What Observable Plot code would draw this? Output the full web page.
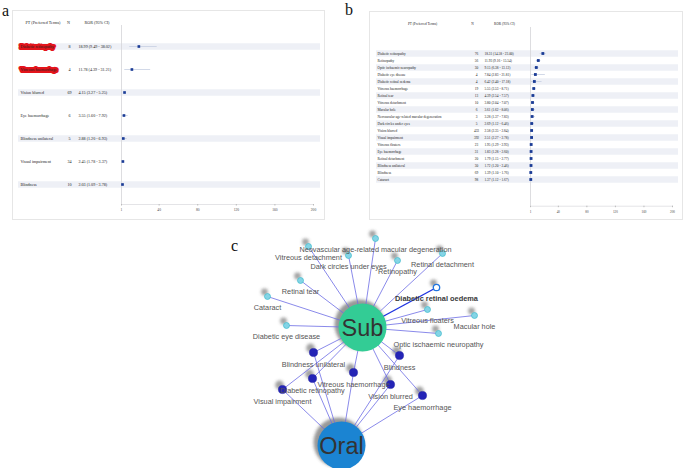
<!DOCTYPE html>
<html>
<head>
<meta charset="utf-8">
<script src="https://cdn.jsdelivr.net/npm/d3@7"></script>
<script src="https://cdn.jsdelivr.net/npm/@observablehq/plot@0.6"></script>
<style>
  html, body { margin: 0; padding: 0; background: #fff; }
  #root { position: relative; width: 685px; height: 468px; overflow: hidden; background: #fff; }
  #root > svg, #root > div { position: absolute; }
  .plab { font-family: 'Liberation Serif', 'Times New Roman', serif; font-size: 16px; color: #111; line-height: 1; }
</style>
</head>
<body>
<div id="root"></div>
<script>
// ---------- Panel a data (oral) ----------
const termsA = ["Diabetic retinopathy","Vitreous haemorrhage","Vision blurred","Eye haemorrhage","Blindness unilateral","Visual impairment","Blindness"];
const nA     = [8, 4, 69, 6, 5, 34, 10];
const rorA   = [18.99, 11.78, 4.15, 3.55, 2.88, 2.45, 2.03];
const loA    = [9.49, 4.39, 3.27, 1.60, 1.20, 1.78, 1.09];
const hiA    = [38.02, 31.21, 5.25, 7.92, 6.93, 3.37, 3.78];
const highlightA = ["Diabetic retinopathy","Vitreous haemorrhage"];

// ---------- Panel b data (subcutaneous) ----------
const termsB = ["Diabetic retinopathy","Retinopathy","Optic ischaemic neuropathy","Diabetic eye disease","Diabetic retinal oedema","Vitreous haemorrhage","Retinal tear","Vitreous detachment","Macular hole","Neovascular age-related macular degeneration","Dark circles under eyes","Vision blurred","Visual impairment","Vitreous floaters","Eye haemorrhage","Retinal detachment","Blindness unilateral","Blindness","Cataract"];
const nB     = [76, 56, 30, 4, 4, 19, 13, 10, 6, 3, 5, 433, 392, 23, 31, 20, 30, 69, 98];
const rorB   = [18.31, 11.93, 9.15, 7.84, 6.42, 5.55, 4.39, 3.80, 3.61, 3.28, 2.69, 2.58, 2.51, 1.95, 1.83, 1.79, 1.72, 1.39, 1.37];
const loB    = [14.58, 9.16, 6.38, 2.83, 2.40, 3.53, 2.54, 2.04, 1.62, 1.37, 1.12, 2.35, 2.27, 1.29, 1.28, 1.15, 1.20, 1.10, 1.12];
const hiB    = [23.00, 15.54, 13.12, 21.81, 17.18, 8.71, 7.57, 7.07, 8.06, 7.83, 6.46, 2.84, 2.78, 2.93, 2.60, 2.77, 2.46, 1.76, 1.67];

const headers = ["PT (Preferred Terms)", "N", "ROR (95% CI)"];
const xTicks = [1, 40, 80, 120, 160, 200];
const refValue = 1;

// ---------- Panel c data (network layout) ----------
const hubNames = ["Sub", "Oral"];
const hubX = [362, 341];
const hubY = [327, 445];
const subOnly  = ["Neovascular age-related macular degeneration","Vitreous detachment","Dark circles under eyes","Retinopathy","Retinal detachment","Retinal tear","Cataract","Diabetic retinal oedema","Vitreous floaters","Macular hole","Optic ischaemic neuropathy","Diabetic eye disease"];
const subOnlyX = [375, 308, 348, 397, 442, 300, 267, 436, 427, 474, 438, 286];
const subOnlyY = [238, 246, 255, 260, 253, 280, 296, 287, 309, 315, 333, 325];
const shared  = ["Blindness unilateral","Diabetic retinopathy","Visual impairment","Vitreous haemorrhage","Blindness","Vision blurred","Eye haemorrhage"];
const sharedX = [313, 312, 282, 353, 399, 390, 422];
const sharedY = [352, 378, 389, 372, 355, 384, 395];
const emphasised = ["Diabetic retinal oedema"];

const root = document.getElementById("root");
const serif = "'Liberation Serif', 'Times New Roman', serif";
const fmt = v => v.toFixed(2);

function forest(cfg) {
  const rows = cfg.terms.map((t, i) => ({
    term: t, n: cfg.n[i], ror: cfg.ror[i], lo: cfg.lo[i], hi: cfg.hi[i],
    label: `${fmt(cfg.ror[i])} (${fmt(cfg.lo[i])} - ${fmt(cfg.hi[i])})`, odd: i % 2 === 0
  }));
  const hl = cfg.highlight || [];
  const fs = cfg.fontSize;
  const plot = Plot.plot({
    width: cfg.width, height: cfg.height,
    marginLeft: cfg.ml, marginRight: cfg.mr, marginTop: cfg.mt, marginBottom: cfg.mb,
    x: {domain: [xTicks[0], xTicks[xTicks.length - 1]], label: null},
    y: {type: "point", domain: cfg.terms, range: cfg.yRange, axis: null},
    style: {fontFamily: serif, background: "#fff", outline: "1px solid #e6e6e6", overflow: "visible"},
    marks: [
      Plot.ruleY(rows.filter(d => d.odd), {y: "term", stroke: "#eef0f6", strokeWidth: 6.4, insetLeft: cfg.bandL, insetRight: cfg.bandR}),
      Plot.ruleX([refValue], {stroke: "#d4d4d8", strokeWidth: 0.8}),
      Plot.frame({anchor: "bottom", stroke: "#d8d8dc", strokeWidth: 0.7}),
      Plot.axisX(xTicks, {tickSize: 1.5, tickPadding: 2.5, fontSize: cfg.tickFont, stroke: "#bbb", fill: "#444"}),
      Plot.ruleY(rows, {y: "term", x1: "lo", x2: "hi", stroke: "#c6cfe2", strokeWidth: 0.8}),
      Plot.dot(rows, {x: "ror", y: "term", symbol: "square", r: cfg.sq, fill: "#1b3c96", stroke: "none"}),
      Plot.text(rows.filter(d => hl.includes(d.term)), {y: "term", text: "term", frameAnchor: "left", dx: cfg.cLabel, textAnchor: "start", fontSize: fs, fill: "#e3141b", stroke: "#e3141b", strokeWidth: 4.2, strokeLinejoin: "round"}),
      Plot.text(rows, {y: "term", text: "term", frameAnchor: "left", dx: cfg.cLabel, textAnchor: "start", fontSize: fs, fill: "#222"}),
      Plot.text(rows, {y: "term", text: "n", frameAnchor: "left", dx: cfg.cN, textAnchor: "middle", fontSize: fs, fill: "#222"}),
      Plot.text(rows, {y: "term", text: "label", frameAnchor: "left", dx: cfg.cRor, textAnchor: "start", fontSize: fs, fill: "#222"}),
      Plot.text([headers[0]], {text: d => d, frameAnchor: "top-left", dx: cfg.hPT, dy: cfg.hDy, textAnchor: "middle", fontSize: fs, fill: "#222"}),
      Plot.text([headers[1]], {text: d => d, frameAnchor: "top-left", dx: cfg.hN, dy: cfg.hDy, textAnchor: "middle", fontSize: fs, fill: "#222"}),
      Plot.text([headers[2]], {text: d => d, frameAnchor: "top-left", dx: cfg.hRor, dy: cfg.hDy, textAnchor: "middle", fontSize: fs, fill: "#222"})
    ]
  });
  plot.style.left = cfg.left + "px";
  plot.style.top = cfg.top + "px";
  root.appendChild(plot);
}

forest({
  terms: termsA, n: nA, ror: rorA, lo: loA, hi: hiA, highlight: highlightA,
  left: 13, top: 11, width: 311, height: 208,
  ml: 108, mr: 11, mt: 14, mb: 15, yRange: [21.3, 187.3],
  bandL: -103, bandR: -7,
  cLabel: -101, cN: -52, cRor: -43, hPT: -78.5, hN: -53, hRor: -24.5, hDy: -4,
  fontSize: 4.1, tickFont: 3.6, sq: 1.5
});

forest({
  terms: termsB, n: nB, ror: rorB, lo: loB, hi: hiB,
  left: 370, top: 12, width: 312, height: 207,
  ml: 160, mr: 10, mt: 15, mb: 13.3, yRange: [29.3, 179.4],
  bandL: -154, bandR: -6,
  cLabel: -153, cN: -54, cRor: -46, hPT: -108, hN: -58, hRor: -26, hDy: -4.7,
  fontSize: 3.45, tickFont: 3.3, sq: 1.6
});

// ---------- Panel c network ----------
const hubs = hubNames.map((h, i) => ({name: h, x: hubX[i], y: hubY[i], fill: i === 0 ? "#33cc95" : "#1b84d2"}));
const lightNodes = subOnly.map((t, i) => ({name: t, x: subOnlyX[i], y: subOnlyY[i], ring: emphasised.includes(t)}));
const darkNodes = shared.map((t, i) => ({name: t, x: sharedX[i], y: sharedY[i]}));
const edges = [];
for (const d of lightNodes) edges.push({x1: hubs[0].x, y1: hubs[0].y, x2: d.x, y2: d.y, strong: d.ring});
for (const d of darkNodes) {
  edges.push({x1: hubs[0].x, y1: hubs[0].y, x2: d.x, y2: d.y, strong: false});
  edges.push({x1: hubs[1].x, y1: hubs[1].y, x2: d.x, y2: d.y, strong: false});
}
const allSmall = [...lightNodes.map(d => ({...d, r: 3.4})), ...darkNodes.map(d => ({...d, r: 4.4}))];
const sans = "'Liberation Sans', Arial, sans-serif";

const net = Plot.plot({
  width: 280, height: 243, margin: 0,
  x: {domain: [220, 500], range: [0, 280], axis: null},
  y: {domain: [225, 468], range: [0, 243], axis: null},
  r: {type: "identity"},
  style: {fontFamily: sans, background: "transparent", overflow: "visible"},
  marks: [
    Plot.dot(hubs, {x: "x", y: "y", r: 25, fill: "#444", fillOpacity: 0.55, dx: -3, dy: -3, ariaDescription: "shadow"}),
    Plot.dot(allSmall, {x: "x", y: "y", r: "r", fill: "#555", fillOpacity: 0.55, dx: -3, dy: -4.5, ariaDescription: "shadow"}),
    Plot.link(edges, {x1: "x1", y1: "y1", x2: "x2", y2: "y2", stroke: d => d.strong ? "#1f33e0" : "#6c6ce4", strokeWidth: d => d.strong ? 1.4 : 0.8}),
    Plot.dot(lightNodes.filter(d => !d.ring), {x: "x", y: "y", r: 3, fill: "#84d4e6", stroke: "#3fbccb", strokeWidth: 0.7}),
    Plot.dot(lightNodes.filter(d => d.ring), {x: "x", y: "y", r: 3.2, fill: "#fff", stroke: "#1f74e0", strokeWidth: 1.3}),
    Plot.dot(darkNodes, {x: "x", y: "y", r: 4.1, fill: "#2424b6", stroke: "#1c1ca0", strokeWidth: 0.5}),
    Plot.dot(hubs, {x: "x", y: "y", r: 24, fill: "fill"}),
    Plot.text(lightNodes.filter(d => !d.ring), {x: "x", y: "y", text: "name", dy: 11.5, fontSize: 7.3, fill: "#555"}),
    Plot.text(lightNodes.filter(d => d.ring), {x: "x", y: "y", text: "name", dy: 11.5, fontSize: 7.4, fontWeight: "bold", fill: "#3a3a3a"}),
    Plot.text(darkNodes, {x: "x", y: "y", text: "name", dy: 11.8, fontSize: 7.3, fill: "#555"}),
    Plot.text(hubs, {x: "x", y: "y", text: "name", fontSize: 23.5, fill: "#333", dy: 1})
  ]
});
// soft blur for the node shadows
{
  const ns = "http://www.w3.org/2000/svg";
  const defs = document.createElementNS(ns, "defs");
  const filt = document.createElementNS(ns, "filter");
  filt.setAttribute("id", "nodeShadow");
  filt.setAttribute("x", "-100%"); filt.setAttribute("y", "-100%");
  filt.setAttribute("width", "300%"); filt.setAttribute("height", "300%");
  const blur = document.createElementNS(ns, "feGaussianBlur");
  blur.setAttribute("stdDeviation", "1.7");
  filt.appendChild(blur);
  defs.appendChild(filt);
  net.insertBefore(defs, net.firstChild);
  const gs = new Set([...net.querySelectorAll('g[aria-description="shadow"]'), ...net.querySelectorAll('g[fill="#444"], g[fill="#555"]')]);
  gs.forEach(g => { if (g.querySelector("circle")) g.setAttribute("filter", "url(#nodeShadow)"); });
}
net.style.left = "220px";
net.style.top = "225px";
root.appendChild(net);

// ---------- panel letters ----------
[["a", 2, 3], ["b", 345, 2], ["c", 231, 238]].forEach(([t, x, y]) => {
  const d = document.createElement("div");
  d.className = "plab";
  d.textContent = t;
  d.style.left = x + "px";
  d.style.top = y + "px";
  root.appendChild(d);
});
</script>
</body>
</html>
